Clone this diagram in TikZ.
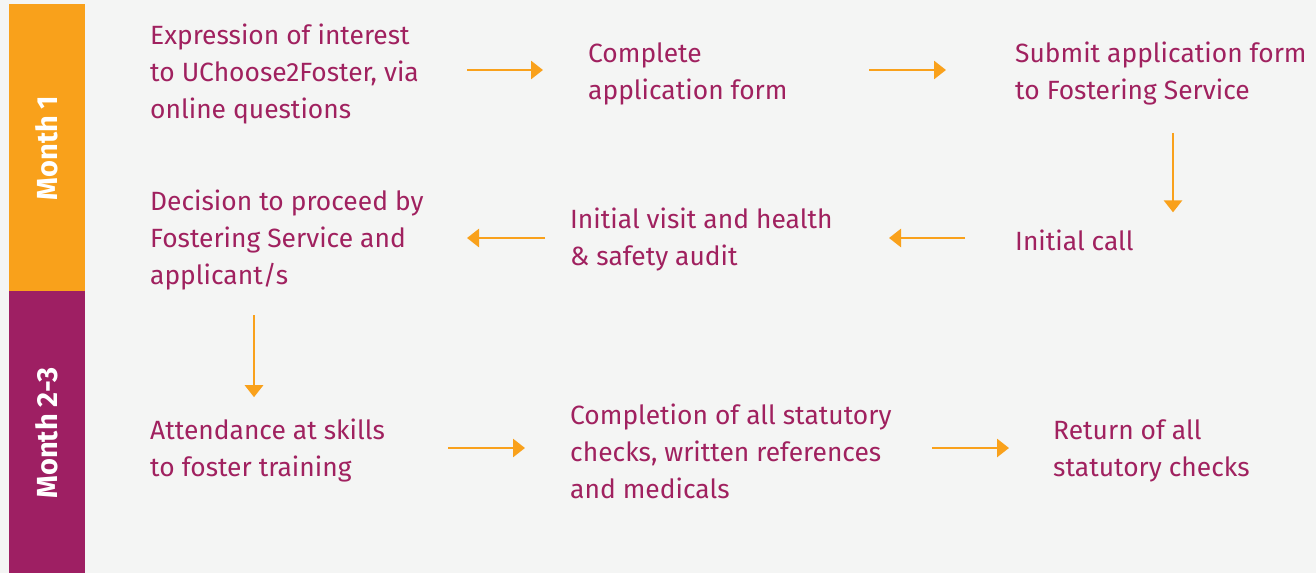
\documentclass[tikz,border=0pt]{standalone}
\usepackage{fontspec}
\setmainfont{Fira Sans}
\usetikzlibrary{arrows.meta}
\usetikzlibrary{calc}
\usepackage{xcolor}

\definecolor{bgGrey}{HTML}{F4F5F4}
\definecolor{monthOrange}{HTML}{F9A11B}
\definecolor{monthPurple}{HTML}{9E1F63}
\definecolor{stepText}{HTML}{A0215F}

\tikzset{
  stepnode/.style={anchor=west, align=left, inner sep=0pt, text=stepText,
    font=\fontsize{26.4}{37}\selectfont},
  monthnode/.style={rotate=90, text=white, font=\fontsize{29}{32}\selectfont\bfseries},
  flow/.style={line width=2.8pt, monthOrange, -{Triangle[width=18pt,length=12pt]}}
}

\begin{document}
\begin{tikzpicture}[x=1pt,y=-1pt]
      % Background
      \fill[bgGrey] (0,0) rectangle (1316,573);
      \useasboundingbox (0,0) rectangle (1316,573);

      % Month bars
      \fill[monthOrange] (9,4) rectangle (85,291);
      \fill[monthPurple] (9,291) rectangle (85,573);
      \node[monthnode] (m1) at (47,148) {Month 1};
      \node[monthnode] (m23) at (47,433) {Month 2-3};

      % Steps
      \node[stepnode] (interest) at (150,74) {Expression of interest\\to UChoose2Foster, via\\online questions};
      \node[stepnode] (complete) at (588,74) {Complete\\application form};
      \node[stepnode] (submit) at (1015,74) {Submit application form\\to Fostering Service};
      \node[stepnode] (call) at (1015,240) {Initial call};
      \node[stepnode] (visit) at (570,240) {Initial visit and health\\\& safety audit};
      \node[stepnode] (decision) at (150,240) {Decision to proceed by\\Fostering Service and\\applicant/s};
      \node[stepnode] (attend) at (150,451) {Attendance at skills\\to foster training};
      \node[stepnode] (checks) at (570,451) {Completion of all statutory\\checks, written references\\and medicals};
      \node[stepnode] (return) at (1053,451) {Return of all\\statutory checks};

      % Arrows
      \draw[flow] ([xshift=-121pt,yshift=4pt]complete.west) -- ([xshift=-45pt,yshift=4pt]complete.west);
      \draw[flow] ([xshift=-146pt,yshift=4pt]submit.west) -- ([xshift=-69pt,yshift=4pt]submit.west);
      \draw[flow] ([xshift=158pt,yshift=-27pt]submit.south west) -- ([xshift=158pt,yshift=17pt]call.north west);
      \draw[flow] ([xshift=-50pt,yshift=2pt]call.west) -- ([xshift=-126pt,yshift=2pt]call.west);
      \draw[flow] ([xshift=-25pt,yshift=2pt]visit.west) -- ([xshift=-103pt,yshift=2pt]visit.west);
      \draw[flow] ([xshift=104pt,yshift=-25pt]decision.south west) -- ([xshift=104pt,yshift=22pt]attend.north west);
      \draw[flow] ([xshift=-122pt,yshift=3pt]checks.west) -- ([xshift=-45pt,yshift=3pt]checks.west);
      \draw[flow] ([xshift=-121pt,yshift=3pt]return.west) -- ([xshift=-44pt,yshift=3pt]return.west);
\end{tikzpicture}
\end{document}
